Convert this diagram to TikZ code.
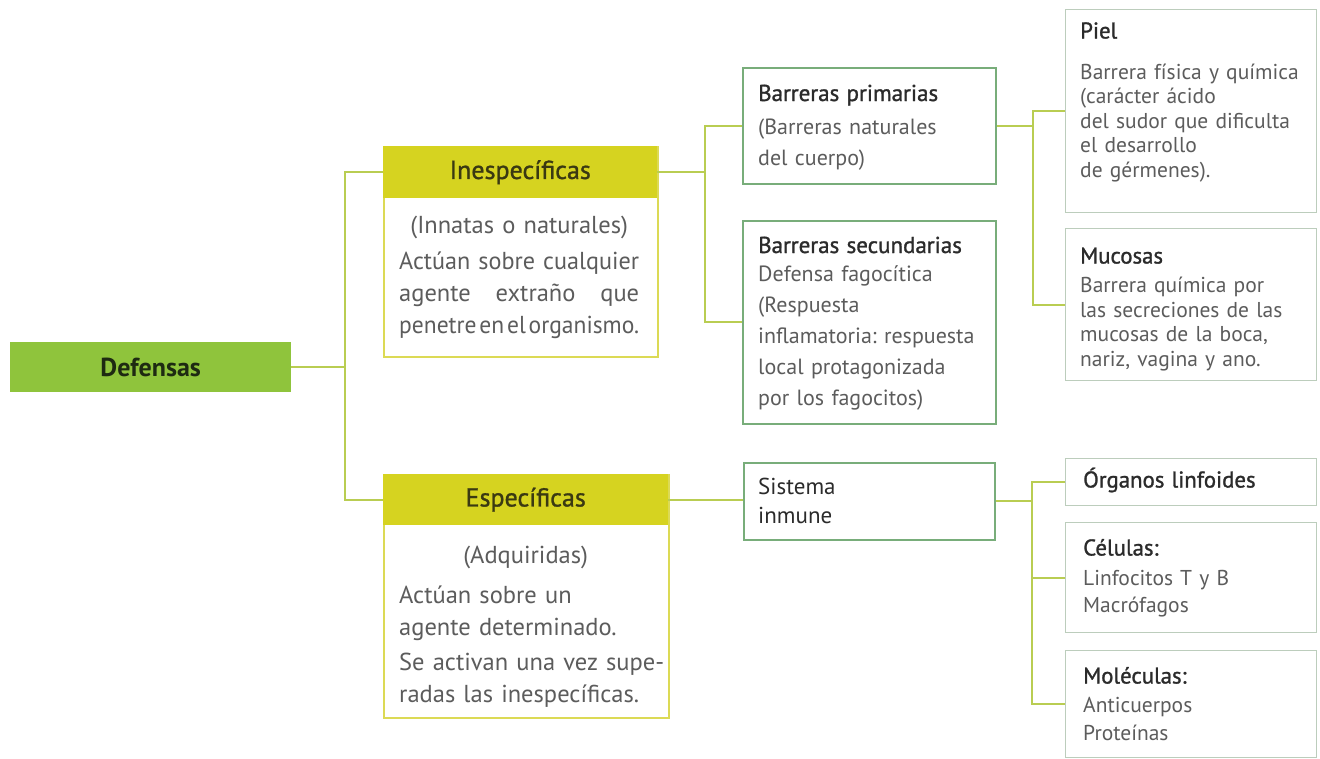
\documentclass[tikz,border=0pt]{standalone}
\usepackage{fontspec}
\usepackage{graphicx}
\setmainfont{PT Sans}
\newfontfamily\semib[FakeBold=1.2]{PT Sans}
\definecolor{connc}{HTML}{B9CD52}
\definecolor{defc}{HTML}{8FC43C}
\definecolor{deftxt}{HTML}{1E2A12}
\definecolor{yheadc}{HTML}{D6D320}
\definecolor{yboxc}{HTML}{DCDA55}
\definecolor{headtxt}{HTML}{3A3912}
\definecolor{gboxc}{HTML}{78AD7A}
\definecolor{lboxc}{HTML}{BCCDBC}
\definecolor{bodyc}{HTML}{5C5C5C}
\definecolor{titc}{HTML}{2B2B2B}
\newcommand\ttl[1]{{\semib\color{titc}\fontsize{22.8}{24.5}\selectfont #1}}
\newcommand\gttl[1]{{\semib\color{titc}\fontsize{23}{31}\selectfont #1}}
\begin{document}
\frenchspacing
\begin{tikzpicture}[x=1pt,y=-1pt,
  conn/.style={draw=connc, line width=2pt},
  ybox/.style={draw=yboxc, line width=1.8pt, fill=white, inner sep=0, anchor=north west},
  yhead/.style={fill=yheadc, inner sep=0, anchor=north west, text=headtxt, font=\fontsize{26}{28}\selectfont\semib},
  gbox/.style={draw=gboxc, line width=1.6pt, fill=white, inner sep=0, anchor=north west},
  lbox/.style={draw=lboxc, line width=1.3pt, fill=white, inner sep=0, anchor=north west},
  ytxt/.style={inner sep=0, anchor=base west, align=left, text=bodyc, font=\fontsize{24.5}{32}\selectfont\frenchspacing},
  gtxt/.style={inner sep=0, anchor=base west, align=left, text=bodyc, font=\fontsize{22}{31}\selectfont\frenchspacing},
  ltxt/.style={inner sep=0, anchor=base west, align=left, text=bodyc, font=\fontsize{21.5}{24.5}\selectfont\frenchspacing}
]
\useasboundingbox (0,0) rectangle (1320,758);
\fill[white] (0,0) rectangle (1320,758);

% ---------- boxes ----------
\node[fill=defc, minimum width=281, minimum height=50, anchor=north west, inner sep=0,
      font=\fontsize{26}{28}\selectfont\bfseries, text=deftxt] (def) at (10,342) {Defensas};

\node[ybox, minimum width=274, minimum height=210] (ines) at (383,146) {};
\node[yhead, minimum width=274, minimum height=52] (ineshead) at (383,146) {Inespecíficas};
\node[ybox, minimum width=285, minimum height=243] (esp) at (383,474) {};
\node[yhead, minimum width=285, minimum height=51] (esphead) at (383,474) {Específicas};

\node[gbox, minimum width=253, minimum height=116] (prim) at (742,67) {};
\node[gbox, minimum width=253, minimum height=203] (sec) at (742,220) {};
\node[gbox, minimum width=251, minimum height=77] (sis) at (743,462) {};

\node[lbox, minimum width=251, minimum height=203] (piel) at (1065,9) {};
\node[lbox, minimum width=251, minimum height=152] (muc) at (1065,228) {};
\node[lbox, minimum width=251, minimum height=47] (org) at (1065,458) {};
\node[lbox, minimum width=251, minimum height=110] (cel) at (1065,522) {};
\node[lbox, minimum width=251, minimum height=107] (mol) at (1065,650) {};

% ---------- connectors ----------
\coordinate (j1) at (345,0);
\coordinate (j2) at (705,0);
\coordinate (j3) at (1033,0);
\coordinate (j4) at (1032,0);
\draw[conn] (def.east) -- (def.east -| j1);
\draw[conn] (ineshead.west) -- (ineshead.west -| j1) -- (esphead.west -| j1) -- (esphead.west);
\draw[conn] (ineshead.east) -- (ineshead.east -| j2);
\draw[conn] (prim.west) -- (prim.west -| j2) -- (sec.west -| j2) -- (sec.west);
\draw[conn] (prim.east) -- (prim.east -| j3);
\draw[conn] (piel.west) -- (piel.west -| j3) -- (muc.west -| j3) -- (muc.west);
\draw[conn] (esphead.east) -- (esphead.east -| sis.west);
\draw[conn] (sis.east) -- (sis.east -| j4);
\draw[conn] (org.west) -- (org.west -| j4) -- (mol.west -| j4) -- (mol.west);
\draw[conn] (cel.west) -- (cel.west -| j4);

% ---------- texts ----------
\node[ytxt, text width=240] (inesT) at (399,233) {%
  \makebox[\linewidth]{(Innatas o naturales)}\\[4pt]
  \resizebox{\linewidth}{\height}{Actúan sobre cualquier}\\
  agente\hfill extraño\hfill que\\
  \resizebox{\linewidth}{\height}{penetre\hspace{0.12em}en\hspace{0.12em}el\hspace{0.12em}organismo.}};

\node[ytxt, text width=266] (espT) at (399,563) {%
  \makebox[253pt]{(Adquiridas)}\\[8pt]
  Actúan sobre un\\
  agente determinado.\\[3pt]
  \mbox{Se activan una vez supe-}\\
  radas las inespecíficas.};

\node[gtxt, text width=232] (primT) at (758,101) {%
  \gttl{Barreras primarias}\\[2pt]
  (Barreras naturales\\
  del cuerpo)};

\node[gtxt, text width=232] (secT) at (758,253) {%
  \gttl{Barreras secundarias}\\[-3pt]
  Defensa fagocítica\\
  (Respuesta\\
  inflamatoria: respuesta\\
  local protagonizada\\
  por los fagocitos)};

\node[gtxt, text width=232, font=\fontsize{23}{29}\selectfont, text=titc] (sisT) at (758,494) {%
  Sistema\\ inmune};

\node[ltxt, text width=236] (pielT) at (1080,38.5) {%
  \ttl{Piel}\\[16pt]
  Barrera física y química\\
  (carácter ácido\\
  del sudor que dificulta\\
  el desarrollo\\
  de gérmenes).};

\node[ltxt, text width=236] (mucT) at (1080,263.5) {%
  \ttl{Mucosas}\\[4.5pt]
  Barrera química por\\
  las secreciones de las\\
  mucosas de la boca,\\
  nariz, vagina y ano.};

\node[ltxt, text width=230] (orgT) at (1083,487.5) {%
  \ttl{Órganos linfoides}};

\node[ltxt, text width=230, font=\fontsize{21.5}{27}\selectfont] (celT) at (1083,555.5) {%
  \ttl{Células:}\\[3pt]
  Linfocitos T y B\\
  Macrófagos};

\node[ltxt, text width=230, font=\fontsize{21.5}{28}\selectfont] (molT) at (1083,683.5) {%
  \ttl{Moléculas:}\\[1pt]
  Anticuerpos\\
  Proteínas};
\end{tikzpicture}
\end{document}
